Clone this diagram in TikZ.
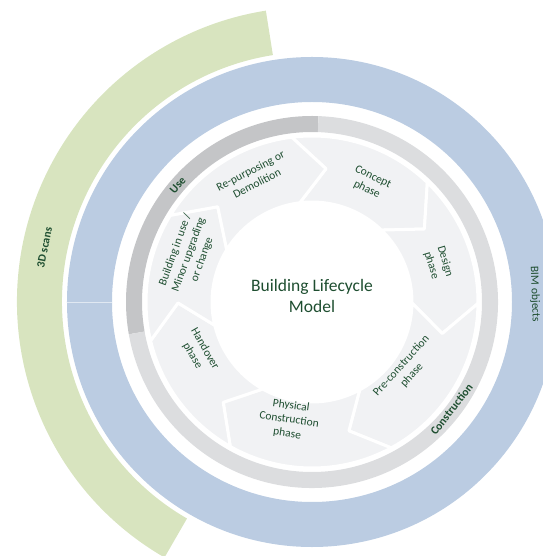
\documentclass[tikz,border=0pt]{standalone}
\usepackage{fontspec}
\setmainfont{Carlito}
\definecolor{scangreen}{RGB}{216,228,191}
\definecolor{bimblue}{RGB}{187,204,226}
\definecolor{usegray}{RGB}{196,197,199}
\definecolor{congray}{RGB}{220,221,223}
\definecolor{phasefill}{RGB}{241,242,244}
\definecolor{txtgreen}{RGB}{30,78,48}
\begin{document}
\begin{tikzpicture}[x=1pt,y=1pt,line join=round,
  phase/.style={fill=phasefill,draw=white,line width=3pt},
  lbl/.style={text=txtgreen,align=center,font=\fontsize{11.5}{14.2}\selectfont,inner sep=0pt},
  ringlbl/.style={text=txtgreen,font=\fontsize{11.5}{13.8}\selectfont\bfseries,inner sep=0pt}]
\useasboundingbox (-312,-254) rectangle (230,302);
% outer rings
\fill[scangreen] (99:250) arc[start angle=99,end angle=240,radius=250] -- (240:295) arc[start angle=240,end angle=99,radius=295] -- cycle;
\fill[bimblue,even odd rule] (0,0) circle (245) (0,0) circle (200);
\draw[white!55!bimblue,line width=.6pt] (180:200) -- (180:245);
\fill[usegray] (88:186) arc[start angle=88,end angle=190,radius=186] -- (190:170) arc[start angle=190,end angle=88,radius=170] -- cycle;
\fill[congray] (190:186) arc[start angle=190,end angle=448,radius=186] -- (448:170) arc[start angle=448,end angle=190,radius=170] -- cycle;
% phase arrows
\foreach \a/\ta/\b/\tb in {97/84/46/33,46/33/-0.5/-13.6,-0.5/-13.6/-61.5/-74,-61.5/-74/-119.5/-131.5,
  -119.5/-131.5/-166.5/-179.6,-166.5/-179.6/-211.5/-225.3,-211.5/-225.3/-263/-276}{
\filldraw[phase] (\a:166) arc[start angle=\a,end angle=\b,radius=166] -- (\tb:134) -- (\b:100)
  arc[start angle=\b,end angle=\a,radius=100] -- (\ta:134) -- cycle;
}
\node[lbl,rotate=27] (repurp) at (115:138) {Re-purposing or\\Demolition};
\node[lbl,rotate=-26] (concept) at (64:132) {Concept\\phase};
\node[lbl,rotate=-73] (design) at (17:132) {Design\\phase};
\node[lbl,rotate=48] (precon) at (-36:117) {Pre-construction\\phase};
\node[lbl,rotate=-8] (physical) at (-101:120) {Physical\\Construction\\phase};
\node[lbl,rotate=-60] (handover) at (-156:124) {Handover\\phase};
\node[lbl,rotate=70] (inuse) at (159:132) {Building in use /\\Minor upgrading\\or change};
\node[text=txtgreen,align=center,font=\fontsize{17.5}{21}\selectfont] (model) at (0,6) {Building Lifecycle\\Model};
% ring labels
\node[ringlbl,rotate=49] (use) at (139:178) {Use};
\node[ringlbl,rotate=52] (construction) at (-37.6:176) {Construction};
\node[ringlbl,rotate=78.5] (scans) at (168.5:273) {3D scans};
\node[ringlbl,font=\fontsize{11.5}{13.8}\selectfont,rotate=-88] (bim) at (2:223) {BIM objects};
\end{tikzpicture}
\end{document}
